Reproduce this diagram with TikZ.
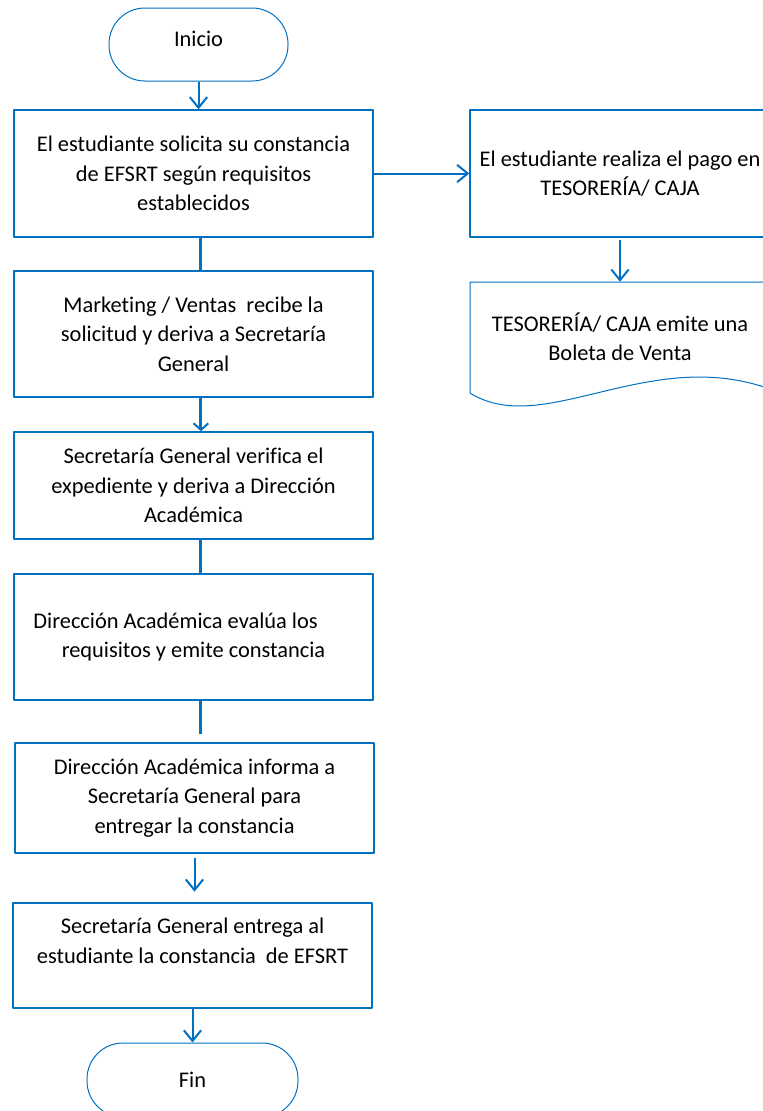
\documentclass[tikz,border=0pt]{standalone}
\usepackage{fontspec}
\setmainfont{Carlito}[Ligatures=NoCommon]
\usetikzlibrary{arrows.meta}
\definecolor{azul}{RGB}{0,112,192}
\tikzset{
	caja/.style={draw=azul, line width=1pt, align=center, inner sep=0pt, minimum width=359*0.75pt},
	terminal/.style={draw=azul, line width=.75pt, rounded corners=27pt, inner sep=0pt},
	flecha/.style={azul, line width=1.5pt, -{Straight Barb[length=8pt, width=13pt, line width=1.5pt]}},
	linea/.style={azul, line width=2.25pt}
}
\begin{document}
\begin{tikzpicture}[x=.75pt, y=-.75pt, font=\fontsize{16.8}{22}\selectfont, line join=round]
	\useasboundingbox (0,0) rectangle (763,1111);
	\clip (0,0) rectangle (763,1111);
	% columna principal
	\node[terminal, minimum width=179*.75pt, minimum height=73*.75pt, text depth=8pt] (inicio) at (198.5,44.5) {Inicio};
	\node[caja, minimum height=127*.75pt] (sol) at (193.5,173.5) {El estudiante solicita su constancia\\de EFSRT según requisitos\\establecidos};
	\node[caja, minimum height=126*.75pt] (mkt) at (193.5,334) {Marketing / Ventas\ \ recibe la\\solicitud y deriva a Secretaría\\General};
	\node[caja, minimum height=107*.75pt] (sec) at (193.5,485.5) {Secretaría General verifica el\\expediente y deriva a Dirección\\Académica};
	\node[caja, minimum height=126*.75pt] (eva) at (193.5,637) {Dirección Académica evalúa los\hspace*{1.6em}\\requisitos y emite constancia};
	\node[caja, minimum height=110*.75pt] (inf) at (194.5,798) {Dirección Académica informa a\\Secretaría General para\\entregar la constancia};
	\node[caja, minimum height=105*.75pt] (ent) at (192.5,955.5) {Secretaría General entrega al\\estudiante la constancia\ \ de EFSRT\\~};
	\node[terminal, minimum width=211*.75pt, minimum height=74*.75pt] (fin) at (192.5,1080) {Fin};
	% columna de pago
	\node[caja, minimum width=300*.75pt, minimum height=127*.75pt] (pago) at (620,173.5) {El estudiante realiza el pago en\\TESORERÍA/ CAJA};
	\node[inner sep=0pt, minimum height=110*.75pt, align=center] (bol) at (620,337) {TESORERÍA/ CAJA emite una\\Boleta de Venta};
	\draw[azul, line width=.75pt] (790,393) -- (790,282) -- (470,282) -- (470,393) .. controls (545,440) and (655,340) .. (780,393);
	% conectores
	\draw[flecha] (inicio.south) -- (inicio.south |- sol.north);
	\draw[linea] ([xshift=5pt]sol.south) -- ([xshift=5pt]mkt.north);
	\draw[flecha, line width=2.25pt, -{Straight Barb[length=5pt, width=11pt, line width=1.5pt]}] ([xshift=5.6pt]mkt.south) -- ([xshift=5.6pt]sec.north);
	\draw[linea] ([xshift=5pt]sec.south) -- ([xshift=5pt]eva.north);
	\draw[linea, shorten >=6pt] ([xshift=5pt]eva.south) -- ([xshift=5pt]eva.south |- inf.north);
	\draw[flecha, shorten <=3pt, shorten >=8pt] (inf.south) -- (inf.south |- ent.north);
	\draw[flecha] (ent.south) -- (ent.south |- fin.north);
	\draw[flecha] (sol.east) -- (pago.west);
	\draw[flecha, shorten <=2pt] (pago.south -| bol.north) -- (bol.north);
\end{tikzpicture}
\end{document}
